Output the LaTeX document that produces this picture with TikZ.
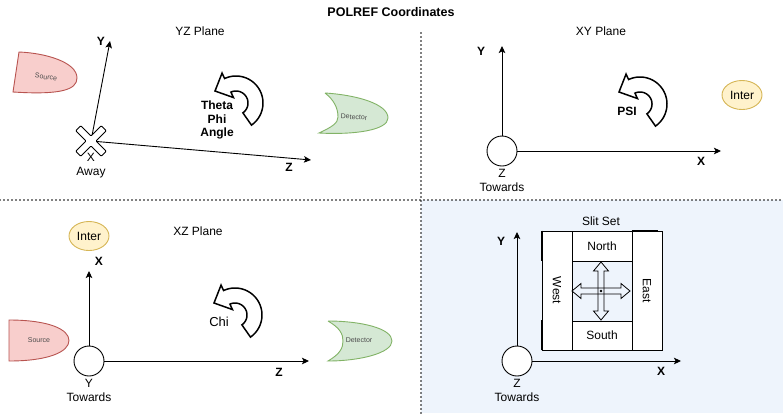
\documentclass[tikz,border=0pt]{standalone}
\usepackage{fontspec}
\setmainfont{Liberation Sans}
\usetikzlibrary{arrows.meta,shapes.geometric}
\definecolor{srcfill}{HTML}{F8CECC}
\definecolor{srcline}{HTML}{B85450}
\definecolor{detfill}{HTML}{D5E8D4}
\definecolor{detline}{HTML}{82B366}
\definecolor{interfill}{HTML}{FFF2CC}
\definecolor{interline}{HTML}{D6B656}
\definecolor{bgblue}{HTML}{EEF4FC}
\begin{document}
\begin{tikzpicture}[x=1pt,y=-1pt,
  txt/.style={font=\fontsize{12}{14}\selectfont, inner sep=0pt, align=center},
  bld/.style={font=\bfseries\fontsize{12}{13.5}\selectfont, inner sep=0pt, align=center},
  tinytxt/.style={font=\fontsize{7}{8}\selectfont, text=black!70, inner sep=0pt},
  axis/.style={line width=0.9pt, -{Stealth[length=7pt,width=6.5pt,inset=1.5pt]}},
  origin/.style={circle, draw, fill=white, line width=0.9pt, minimum size=30pt, inner sep=0pt},
  inter/.style={ellipse, draw=interline, fill=interfill, line width=0.9pt, minimum width=40pt, minimum height=29pt, inner sep=0pt, font=\fontsize{12}{14}\selectfont},
  src/.style={draw=srcline, fill=srcfill, line width=0.9pt},
  det/.style={draw=detline, fill=detfill, line width=0.9pt},
  sep/.style={line width=1.6pt, line cap=round, dash pattern=on 0pt off 4pt},
  slit/.style={draw, fill=white, line width=0.9pt, inner sep=0pt, font=\fontsize{12}{14}\selectfont},
  darr/.style={draw, line width=0.8pt, line join=miter},
  rotarrow/.pic={
    \draw[line width=1.5pt, fill=white, line join=miter]
      plot[domain=55:-115, samples=40] ({27*cos(\x)},{27*sin(\x)})
      -- (-115:33) -- (-21,-12) -- (-115:6)
      -- plot[domain=-115:55, samples=40] ({12*cos(\x)},{12*sin(\x)}) -- cycle;
  }
]
\useasboundingbox (0,0) rectangle (783,413);
\fill[white] (0,0) rectangle (783,413);
\fill[bgblue] (421,200) rectangle (783,413);
\draw[sep] (421,33) -- (421,413);
\draw[sep] (0,200) -- (783,200);

\node[bld, font=\bfseries\fontsize{12.5}{14}\selectfont] (title) at (391,12) {POLREF Coordinates};

% ---------- YZ plane ----------
\node[txt] (yzlabel) at (200,31) {YZ Plane};
\coordinate (yzO) at (91,141);
\coordinate (yzY) at (110,41);
\coordinate (yzZ) at (311,160);
\draw[axis] (yzO) -- (yzY);
\draw[axis] (yzO) -- (yzZ);
\begin{scope}[shift={(yzO)}, rotate=45]
  \draw[fill=white, line width=0.8pt, rounded corners=0.8pt]
    (-18,-3.5) -- (-3.5,-3.5) -- (-3.5,-18) -- (3.5,-18) -- (3.5,-3.5) -- (18,-3.5)
    -- (18,3.5) -- (3.5,3.5) -- (3.5,18) -- (-3.5,18) -- (-3.5,3.5) -- (-18,3.5) -- cycle;
\end{scope}
\node[bld] (yzYl) at (101,41) {Y};
\node[bld] (yzZl) at (289,167) {Z};
\node[txt] (yzXl) at (91,166) {X\\Away};
\draw[src] (19,52) .. controls (45,53) and (77,62) .. (77,78) .. controls (77,90) and (60,95) .. (13,92) -- cycle;
\node[tinytxt, rotate=-8] (yzsrc) at (46,77) {Source};
\draw[det] (325,93) .. controls (357,95) and (388,104) .. (388,118) .. controls (388,130) and (355,135) .. (319,133)
  .. controls (332,127) and (338,123) .. (338,117) .. controls (338,108) and (334,100) .. (325,93);
\node[tinytxt, rotate=-4] (yzdet) at (354,117) {Detector};
\pic at (236,103) {rotarrow};
\node[bld] (yzang) at (217,120) {Theta\\Phi\\Angle};

% ---------- XY plane ----------
\node[txt] (xylabel) at (601,31) {XY Plane};
\node[origin] (xyO) at (502,151) {};
\coordinate (xyY) at (502,46);
\coordinate (xyX) at (721,151);
\draw[axis] (xyO.north) -- (xyY);
\draw[axis] (xyO.east) -- (xyX);
\node[bld] (xyYl) at (481,51) {Y};
\node[bld] (xyXl) at (701,161) {X};
\node[txt] (xyZl) at (502,180) {Z\\Towards};
\pic at (640,104) {rotarrow};
\node[bld] (xypsi) at (627,111) {PSI};
\node[inter] (xyinter) at (742,95) {Inter};

% ---------- XZ plane ----------
\node[txt] (xzlabel) at (198,231) {XZ Plane};
\node[inter] (xzinter) at (89,236) {Inter};
\node[bld] (xzXl) at (99,261) {X};
\node[origin] (xzO) at (89,361) {};
\coordinate (xzX) at (89,271);
\coordinate (xzZ) at (309,361);
\draw[axis] (xzO.north) -- (xzX);
\draw[axis] (xzO.east) -- (xzZ);
\node[bld] (xzZl) at (279,372) {Z};
\node[txt] (xzYl) at (89,390) {Y\\Towards};
\draw[src] (9,320) .. controls (48,320) and (69,329) .. (69,340.5) .. controls (69,352) and (48,361) .. (9,361) -- cycle;
\node[tinytxt] (xzsrc) at (39,340) {Source};
\draw[det] (328,321) .. controls (360,321) and (392,328) .. (392,341) .. controls (392,353) and (360,361) .. (328,361)
  .. controls (340,354) and (343,348) .. (343,341) .. controls (343,334) and (340,328) .. (328,321);
\node[tinytxt] (xzdet) at (359,340) {Detector};
\pic at (235,315) {rotarrow};
\node[txt, font=\fontsize{13}{14}\selectfont] (xzchi) at (219,322) {Chi};

% ---------- Slit set ----------
\node[origin] (brO) at (517,361) {};
\coordinate (brY) at (517,232);
\coordinate (brX) at (681,361);
\draw[axis] (brO.north) -- (brY);
\draw[axis] (brO.east) -- (brX);
\node[bld] (brYl) at (501,241) {Y};
\node[bld] (brXl) at (661,371) {X};
\node[txt] (brZl) at (517,390) {Z\\Towards};
\node[txt] (slitlabel) at (601,221) {Slit Set};
\node[slit, minimum width=30pt, minimum height=119pt] (west) at (557,290.5) {\rotatebox{-90}{West}};
\node[slit, minimum width=30pt, minimum height=119pt] (east) at (647,290.5) {\rotatebox{-90}{East}};
\node[slit, minimum width=60pt, minimum height=30pt] (north) at (602,246) {North};
\node[slit, minimum width=60pt, minimum height=29pt] (south) at (602,335.5) {South};
\draw[line width=2pt] (west.north west) -- ++(0,30);
\draw[line width=2pt] (west.south west) -- ++(0,-30);
\draw[line width=2pt] (east.north west) -- ++(26,0);
\coordinate (sc) at (601,291);
\begin{scope}[shift={(sc)}]
  \draw[darr] (-29,0) -- (-20,-7.5) -- (-20,-3) -- (20,-3) -- (20,-7.5) -- (29,0) -- (20,7.5) -- (20,3) -- (-20,3) -- (-20,7.5) -- cycle;
  \draw[darr] (0,-29) -- (-7.5,-20) -- (-3,-20) -- (-3,20) -- (-7.5,20) -- (0,29) -- (7.5,20) -- (3,20) -- (3,-20) -- (7.5,-20) -- cycle;
  \fill (0,0) circle (1.3);
\end{scope}
\end{tikzpicture}
\end{document}
